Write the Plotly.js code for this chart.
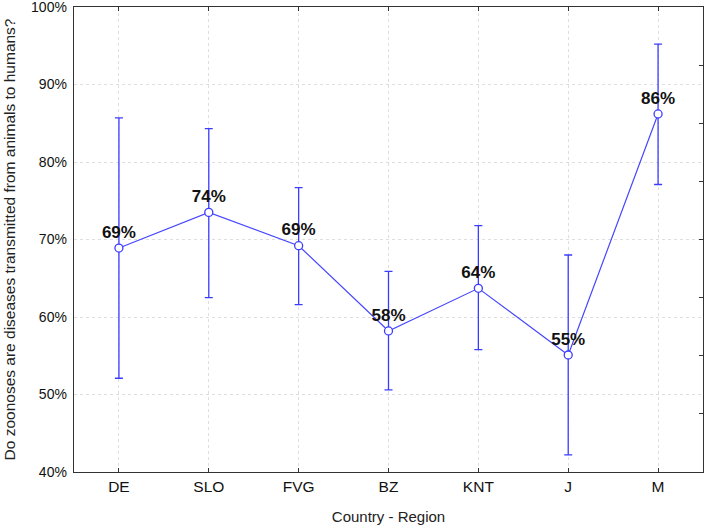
<!DOCTYPE html>
<html>
<head>
<meta charset="utf-8">
<script src="https://cdn.plot.ly/plotly-3.0.1.min.js"></script>
<style>html,body{margin:0;padding:0;background:#fff;}#chart{width:708px;height:528px;}</style>
</head>
<body>
<div id="chart"></div>
<script>
const categories = ["DE", "SLO", "FVG", "BZ", "KNT", "J", "M"];
const values = [68.9, 73.5, 69.2, 58.2, 63.7, 55.1, 86.2];
const upper = [85.7, 84.3, 76.7, 65.9, 71.8, 68.0, 95.2];
const lower = [52.1, 62.5, 61.6, 50.6, 55.8, 42.2, 77.1];
const pointLabels = ["69%", "74%", "69%", "58%", "64%", "55%", "86%"];
const yTickVals = [40, 50, 60, 70, 80, 90, 100];
const yTickText = ["40%", "50%", "60%", "70%", "80%", "90%", "100%"];
const rightTickVals = [0, 1, 2, 3, 4, 5, 6, 7, 8];

const errPlus = upper.map((u, i) => u - values[i]);
const errMinus = values.map((v, i) => v - lower[i]);

const trace = {
  x: categories,
  y: values,
  type: "scatter",
  mode: "lines+markers+text",
  text: pointLabels,
  textposition: "top center",
  textfont: {family: "Liberation Sans, Arial, sans-serif", size: 17, color: "#111", weight: "bold"},
  line: {color: "#4646ff", width: 1.2},
  marker: {size: 8, color: "#ffffff", line: {color: "#3c3cff", width: 1.3}},
  error_y: {type: "data", symmetric: false, array: errPlus, arrayminus: errMinus, color: "#3c3cff", thickness: 1.3, width: 4},
  cliponaxis: false,
  hoverinfo: "none"
};

const rightAxisHolder = {
  x: [], y: [], type: "scatter", mode: "markers", yaxis: "y2", hoverinfo: "none", showlegend: false
};

const layout = {
  width: 708,
  height: 528,
  margin: {l: 74, r: 5, t: 7, b: 56},
  paper_bgcolor: "#ffffff",
  plot_bgcolor: "#ffffff",
  showlegend: false,
  font: {family: "Liberation Sans, Arial, sans-serif", color: "#111"},
  xaxis: {
    type: "category",
    range: [-0.5, 6.5],
    showline: true, linecolor: "#333", linewidth: 1.3, mirror: "ticks",
    ticks: "inside", ticklen: 4, tickcolor: "#333", tickwidth: 1,
    showgrid: true, gridcolor: "#dedede", griddash: "dot", gridwidth: 1,
    tickfont: {size: 15.5, color: "#111"},
    zeroline: false,
    title: {text: "Country - Region", font: {size: 15, color: "#222"}, standoff: 17}
  },
  yaxis: {
    range: [40, 100.001],
    tickmode: "array",
    tickvals: yTickVals,
    ticktext: yTickText,
    ticklabeloverflow: "allow",
    ticklabelshift: -1.5,
    ticklabelstandoff: 3,
    showline: true, linecolor: "#333", linewidth: 1.3, mirror: true,
    ticks: "",
    showgrid: true, gridcolor: "#dedede", griddash: "dot", gridwidth: 1,
    tickfont: {size: 14, color: "#111"},
    zeroline: false,
    title: {text: "Do zoonoses are diseases transmitted from animals to humans?", font: {size: 15.5, color: "#222"}, standoff: 11}
  },
  yaxis2: {
    overlaying: "y",
    side: "right",
    range: [0, 8],
    tickmode: "array",
    tickvals: rightTickVals,
    ticks: "inside", ticklen: 4, tickcolor: "#333", tickwidth: 1,
    showticklabels: false,
    showgrid: false, zeroline: false,
    showline: true, linecolor: "#333", linewidth: 1.3
  }
};

Plotly.newPlot("chart", [trace, rightAxisHolder], layout, {staticPlot: true, displayModeBar: false});
</script>
</body>
</html>
